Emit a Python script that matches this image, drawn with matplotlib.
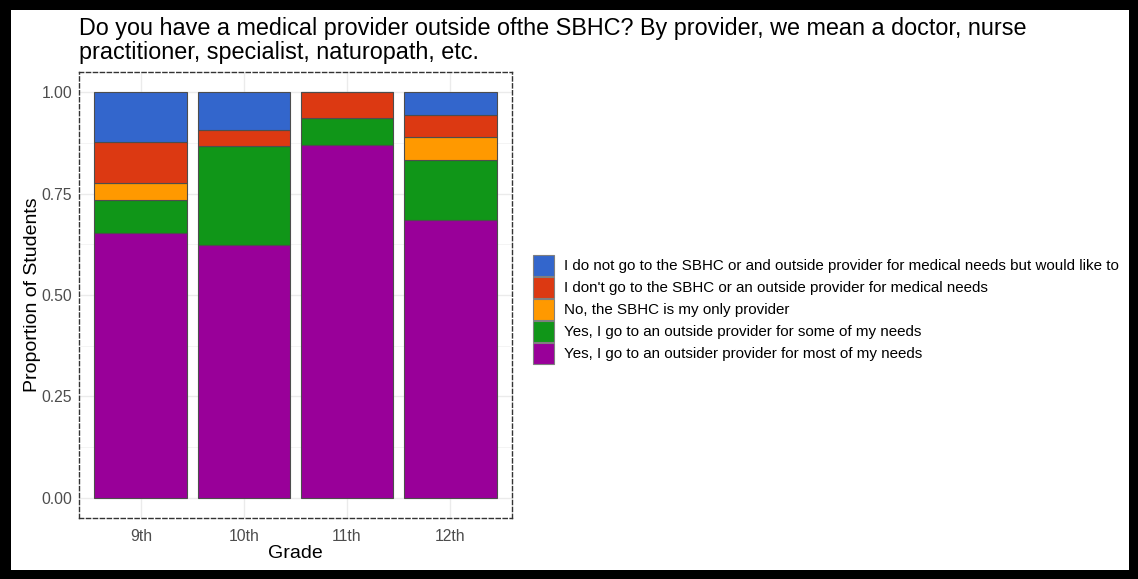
import numpy as np
import matplotlib
matplotlib.use("Agg")
import matplotlib.pyplot as plt
from matplotlib.patches import Rectangle

# proportions per grade, stacked bottom -> top
grades = ["9th", "10th", "11th", "12th"]
most_needs = [0.653, 0.623, 0.871, 0.685]
some_needs = [0.082, 0.245, 0.065, 0.148]
only_sbhc = [0.041, 0.000, 0.000, 0.056]
dont_go = [0.102, 0.038, 0.064, 0.056]
would_like = [0.122, 0.094, 0.000, 0.055]

series = [most_needs, some_needs, only_sbhc, dont_go, would_like]
labels = ["Yes, I go to an outsider provider for most of my needs",
          "Yes, I go to an outside provider for some of my needs",
          "No, the SBHC is my only provider",
          "I don't go to the SBHC or an outside provider for medical needs",
          "I do not go to the SBHC or and outside provider for medical needs but would like to"]
colors = ["#990099", "#109618", "#FF9900", "#DC3912", "#3366CC"]

title = ("Do you have a medical provider outside ofthe SBHC? By provider, we mean a doctor, nurse\n"
         "practitioner, specialist, naturopath, etc.")

plt.rcParams["font.family"] = ["Liberation Sans", "DejaVu Sans"]
W, H = 1138, 579
fig = plt.figure(figsize=(W / 100, H / 100), dpi=100)
fig.patch.set_facecolor("black")
fig.add_artist(Rectangle((11 / W, 9 / H), (W - 20) / W, (H - 19) / H,
                         transform=fig.transFigure, facecolor="white",
                         edgecolor="none", zorder=-10))

ax = fig.add_axes([79 / W, (H - 518) / H, 433 / W, 446 / H])
ax.set_facecolor("white")
x = np.arange(len(grades))
bottom = np.zeros(len(grades))
for vals, col in zip(series, colors):
    vals = np.array(vals)
    ax.bar(x, vals, 0.9, bottom=bottom, color=col, edgecolor="#4d4d4d",
           linewidth=0.8, zorder=3)
    bottom += vals

ax.set_xlim(-0.6, len(grades) - 0.4)
ax.set_ylim(-0.05, 1.05)
ax.set_xticks(x)
ax.set_xticklabels(grades)
ax.set_yticks([0, 0.25, 0.5, 0.75, 1.0])
ax.set_yticklabels(["0.00", "0.25", "0.50", "0.75", "1.00"])
ax.set_yticks([0.125, 0.375, 0.625, 0.875], minor=True)
ax.grid(True, which="major", color="#ebebeb", linewidth=1.0, zorder=0)
ax.grid(True, which="minor", axis="y", color="#f3f3f3", linewidth=0.6, zorder=0)
ax.tick_params(which="both", length=0, labelsize=11.3, labelcolor="#4d4d4d")
ax.tick_params(axis="x", pad=8)
ax.tick_params(axis="y", pad=5)
for s in ax.spines.values():
    s.set_linestyle((0, (3, 2)))
    s.set_linewidth(1.0)
    s.set_edgecolor("#333333")
ax.set_xlabel("Grade", fontsize=14, labelpad=1)
ax.set_ylabel("Proportion of Students", fontsize=14)
ax.yaxis.set_label_coords((41 - 79) / 433, 0.5)

fig.text(79 / W, 1 - 17 / H, title, fontsize=16.8, ha="left", va="top", linespacing=1.08)

# legend drawn as keys + labels, top entry first
for i, (lab, col) in enumerate(zip(labels[::-1], colors[::-1])):
    top = 255 + i * 22.1
    fig.add_artist(Rectangle((533 / W, 1 - (top + 21) / H), 21 / W, 21 / H,
                             transform=fig.transFigure, facecolor=col,
                             edgecolor="#7f7f7f", linewidth=0.8))
    fig.text(564 / W, 1 - (top + 10.5) / H, lab, fontsize=10.9, ha="left", va="center")

fig.savefig("out.png", dpi=100, facecolor=fig.get_facecolor())
